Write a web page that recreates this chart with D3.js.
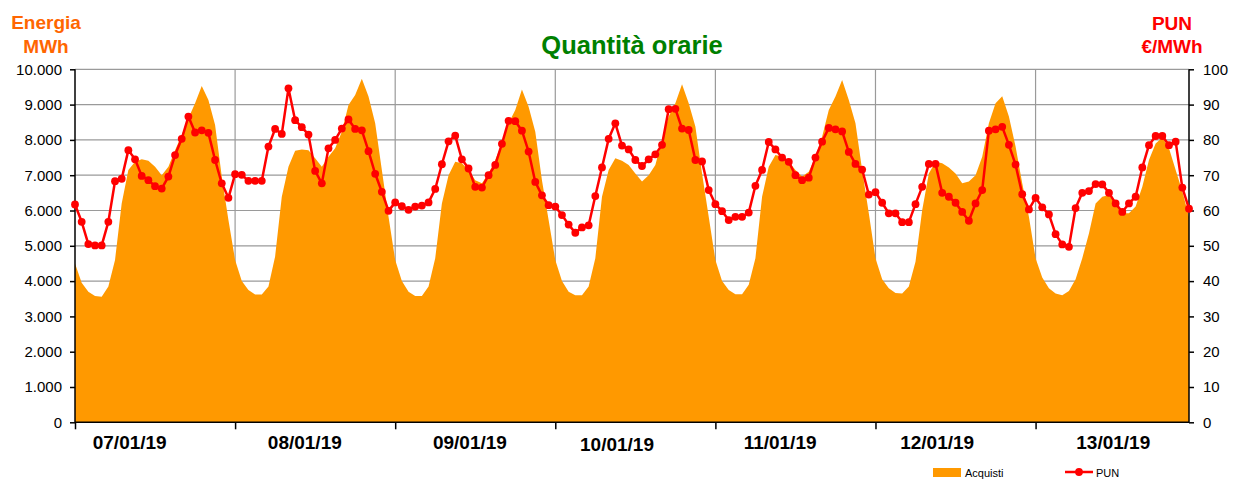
<!DOCTYPE html>
<html><head><meta charset="utf-8">
<script src="https://cdn.jsdelivr.net/npm/d3@7"></script>
<style>body{margin:0;background:#fff}svg{display:block;font-family:"Liberation Sans",Arial,sans-serif}</style>
</head><body>
<svg id="c" width="1233" height="479"></svg>
<script>
const days = ["07/01/19","08/01/19","09/01/19","10/01/19","11/01/19","12/01/19","13/01/19"];
const acquisti = [
4500,3950,3700,3580,3560,3850,4600,6200,7150,7380,7450,7410,7240,7000,7240,7710,8140,8610,9040,9530,9130,8420,6960,5730,
4600,4000,3750,3620,3620,3850,4700,6390,7240,7690,7730,7710,7480,7240,7520,7760,8230,8990,9270,9730,9230,8470,7150,5820,
4600,4000,3700,3580,3580,3850,4650,6200,7000,7380,7340,7150,6860,6770,7050,7430,7900,8470,8850,9430,8940,8230,6860,5730,
4600,4000,3700,3600,3600,3850,4650,6390,7150,7480,7410,7290,7050,6820,7000,7290,8000,8660,9040,9580,9040,8380,7050,5820,
4600,4000,3750,3630,3630,3900,4650,6390,7240,7570,7520,7380,7150,6960,7100,7520,8090,8850,9230,9700,9130,8470,7150,5920,
4650,4050,3800,3660,3650,3850,4550,6010,7050,7380,7340,7220,7050,6770,6820,7000,7520,8470,9040,9240,8660,7810,6770,5820,
4650,4100,3800,3650,3600,3720,4050,4650,5350,6200,6390,6440,6200,5920,5920,6110,6670,7430,7900,8070,7760,7150,6540,5820];
const pun = [
61.7,56.8,50.5,50.1,50.1,56.8,68.3,69.0,77.1,74.5,69.8,68.6,66.9,66.2,69.6,75.7,80.3,86.6,82.1,82.7,82.0,74.3,67.7,63.6,
70.3,70.1,68.4,68.4,68.4,78.1,83.1,81.7,94.6,85.6,83.6,81.5,71.2,67.7,77.6,80.0,83.2,85.8,83.1,82.7,76.8,70.4,65.3,59.9,
62.3,61.2,60.2,61.1,61.4,62.3,66.1,73.1,79.6,81.2,74.5,71.9,66.7,66.5,70.0,72.9,78.9,85.4,85.3,82.6,76.7,68.1,64.3,61.5,
61.1,58.7,56.0,53.7,55.2,55.8,64.1,72.2,80.3,84.7,78.4,77.3,74.3,72.6,74.5,75.9,78.6,88.7,88.8,83.2,82.8,74.3,73.9,65.8,
61.8,59.8,57.3,58.2,58.2,59.4,67.0,71.5,79.4,77.3,75.0,73.8,70.0,68.6,69.3,75.0,79.5,83.4,83.0,82.4,76.6,73.2,71.6,64.5,
65.2,62.2,59.2,59.2,56.7,56.7,61.8,66.7,73.2,73.2,65.0,63.9,62.2,59.6,57.1,62.0,65.8,82.6,83.0,83.7,78.6,73.0,64.6,60.3,
63.6,60.9,58.9,53.3,50.4,49.7,60.7,65.0,65.5,67.5,67.4,65.0,62.0,59.6,62.0,63.9,72.2,78.5,81.1,81.1,78.5,79.5,66.5,60.5];
const leftTicks = [0,1000,2000,3000,4000,5000,6000,7000,8000,9000,10000];
const rightTicks = [0,10,20,30,40,50,60,70,80,90,100];

// layout
const L = 75, R = 1189, T = 69.3, B = 422.3;
const labelNudge = [-12, 3, 8, -5, -2, -5, 11];
const svg = d3.select("#c");
const x = d3.scaleLinear().domain([0, acquisti.length - 1]).range([L, R]);
const yL = d3.scaleLinear().domain([0, 10000]).range([B, T]);
const yR = d3.scaleLinear().domain([0, 100]).range([B, T]);
const loc = d3.formatLocale({decimal: ",", thousands: ".", grouping: [3], currency: ["", ""]});
const fmt = loc.format(",d");

// gridlines
const grid = svg.append("g");
grid.selectAll("line.h").data(leftTicks.filter(d => d > 0)).join("line")
  .attr("x1", L).attr("x2", R).attr("y1", d => yL(d)).attr("y2", d => yL(d))
  .attr("stroke", "#9a9a9a").attr("stroke-width", 1.2);
const dayIdx = days.map((d, i) => i * 24);
grid.selectAll("line.v").data(dayIdx.slice(1)).join("line")
  .attr("x1", d => x(d)).attr("x2", d => x(d)).attr("y1", T).attr("y2", B)
  .attr("stroke", "#9a9a9a").attr("stroke-width", 1.2);

// area
const area = d3.area().x((d, i) => x(i)).y0(B).y1(d => yL(d));
svg.append("path").datum(acquisti).attr("d", area).attr("fill", "#FF9900");

// axes
const axL = d3.axisLeft(yL).tickValues(leftTicks).tickFormat(fmt).tickSize(5).tickPadding(8);
const gL = svg.append("g").attr("transform", `translate(${L},0)`).call(axL);
const axR = d3.axisRight(yR).tickValues(rightTicks).tickFormat(d3.format("d")).tickSize(5).tickPadding(9);
const gR = svg.append("g").attr("transform", `translate(${R},0)`).call(axR);
const axB = d3.axisBottom(x).tickValues(dayIdx).tickFormat("").tickSize(7).tickSizeOuter(0);
const gB = svg.append("g").attr("transform", `translate(0,${B})`).call(axB);
[gL, gR, gB].forEach(g => {
  g.select(".domain").attr("stroke", "#000").attr("stroke-width", 1.5);
  g.selectAll(".tick line").attr("stroke", "#000").attr("stroke-width", 1.5);
  g.selectAll(".tick text").attr("fill", "#000").style("font-size", "15px")
    .style("font-family", '"Liberation Sans",Arial,sans-serif');
});
gL.select(".domain").attr("d", `M0,${B}V${T}`);
gR.select(".domain").attr("d", `M0,${B}V${T}`);
gB.select(".domain").attr("d", `M${L},0H${R}`);

// day labels
svg.append("g").selectAll("text").data(days).join("text")
  .attr("x", (d, i) => x(i * 24 + 10) + labelNudge[i])
  .attr("y", (d, i) => i === 3 ? 451 : 449)
  .attr("text-anchor", "middle").attr("font-weight", "bold").attr("font-size", 19)
  .attr("fill", "#000").text(d => d);

// PUN line
const line = d3.line().x((d, i) => x(i)).y(d => yR(d));
svg.append("path").datum(pun).attr("d", line).attr("fill", "none")
  .attr("stroke", "#FF0000").attr("stroke-width", 2.5).attr("stroke-linejoin", "round");
svg.append("g").selectAll("circle").data(pun).join("circle")
  .attr("cx", (d, i) => x(i)).attr("cy", d => yR(d)).attr("r", 3.9).attr("fill", "#FF0000");

// titles
svg.append("text").attr("x", 632).attr("y", 54).attr("text-anchor", "middle")
  .attr("font-weight", "bold").attr("font-size", 25.5).attr("fill", "#008000").text("Quantità orarie");
const lt = svg.append("text").attr("text-anchor", "middle").attr("font-weight", "bold")
  .attr("font-size", 19).attr("fill", "#FF6600");
lt.append("tspan").attr("x", 46).attr("y", 29).text("Energia");
lt.append("tspan").attr("x", 46).attr("y", 53).text("MWh");
const rt = svg.append("text").attr("text-anchor", "middle").attr("font-weight", "bold")
  .attr("font-size", 19).attr("fill", "#FF0000");
rt.append("tspan").attr("x", 1172).attr("y", 30).text("PUN");
rt.append("tspan").attr("x", 1172).attr("y", 53).text("€/MWh");

// legend
const lg = svg.append("g");
lg.append("rect").attr("x", 933).attr("y", 468).attr("width", 28).attr("height", 9).attr("fill", "#FF9900");
lg.append("text").attr("x", 965).attr("y", 477).attr("font-size", 11).attr("fill", "#000").text("Acquisti");
lg.append("line").attr("x1", 1065).attr("x2", 1093).attr("y1", 472).attr("y2", 472)
  .attr("stroke", "#FF0000").attr("stroke-width", 2.5);
lg.append("circle").attr("cx", 1079).attr("cy", 472).attr("r", 3.9).attr("fill", "#FF0000");
lg.append("text").attr("x", 1096).attr("y", 477).attr("font-size", 11).attr("fill", "#000").text("PUN");
</script>
</body></html>
